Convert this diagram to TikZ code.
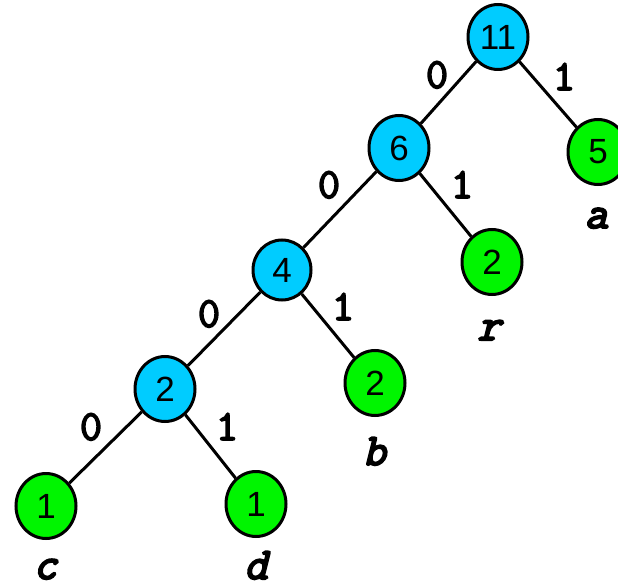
\documentclass[tikz,border=0pt]{standalone}
\usepackage{fontspec}
\setmainfont{Liberation Sans}
\newfontfamily\codefont{Latin Modern Mono}[FakeBold=3.5]
\newfontfamily\symfont{Latin Modern Mono}[FakeBold=4.5, FakeSlant=0.25]
\usetikzlibrary{shapes.geometric}
\definecolor{inner}{RGB}{0,204,255}
\definecolor{leaf}{RGB}{0,245,0}
\tikzset{
  tnode/.style={ellipse, draw=black, line width=3pt, minimum width=60pt, minimum height=65pt, inner sep=0pt, font=\fontsize{35}{35}\selectfont},
  inode/.style={tnode, fill=inner},
  lnode/.style={tnode, fill=leaf},
  edge/.style={line width=3pt},
  bit/.style={anchor=base, inner sep=0pt, font=\codefont\fontsize{43}{43}\selectfont},
  sym/.style={anchor=base, inner sep=0pt, font=\symfont\fontsize{45}{45}\selectfont}
}
\begin{document}
\begin{tikzpicture}[x=1pt,y=-1pt]
\useasboundingbox (0,0) rectangle (618,585);
\node[inode] (n11) at (498,37) {11};
\node[inode] (n6) at (399,148) {6};
\node[lnode] (na) at (598,152) {5};
\node[inode, minimum width=58pt, minimum height=60pt] (n4) at (282,270) {4};
\node[lnode] (nr) at (492,262) {2};
\node[inode] (n2) at (165,389) {2};
\node[lnode] (nb) at (375,383) {2};
\node[lnode] (nc) at (46,506) {1};
\node[lnode] (nd) at (256,504) {1};
\draw[edge] (n11) -- (n6);
\draw[edge] (n11) -- (na);
\draw[edge] (n6) -- (n4);
\draw[edge] (n6) -- (nr);
\draw[edge] (n4) -- (n2);
\draw[edge] (n4) -- (nb);
\draw[edge] (n2) -- (nc);
\draw[edge] (n2) -- (nd);
\node[bit] (b1) at (437,88) {0};
\node[bit] (b2) at (564,90) {1};
\node[bit] (b3) at (329,198) {0};
\node[bit] (b4) at (462,198) {1};
\node[bit] (b5) at (209,327) {0};
\node[bit] (b6) at (343,320) {1};
\node[bit] (b7) at (91,440) {0};
\node[bit] (b8) at (227,440) {1};
\node[sym] (la) at (596,228) {a};
\node[sym] (lr) at (489,340) {r};
\node[sym] (lb) at (374,465) {b};
\node[sym] (lc) at (45,579) {c};
\node[sym] (ld) at (256,579) {d};
\end{tikzpicture}
\end{document}
